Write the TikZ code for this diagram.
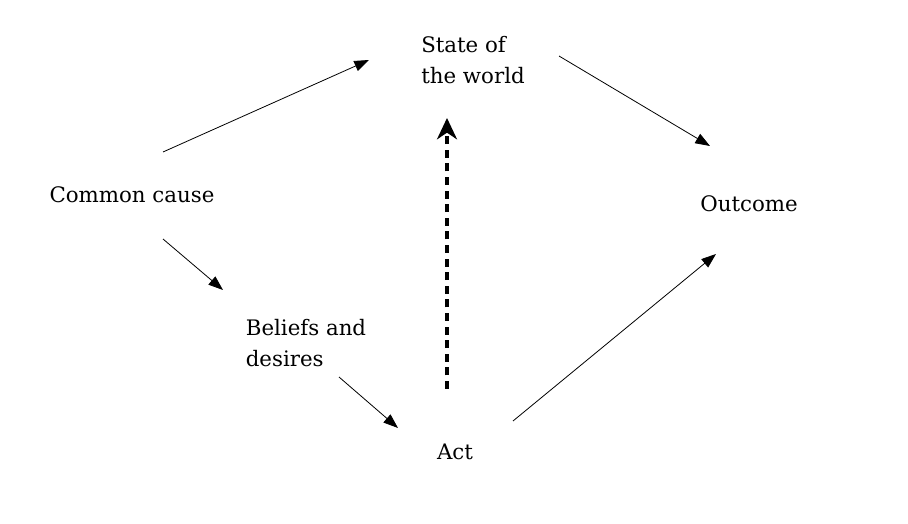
\documentclass[tikz,border=0pt]{standalone}
\usepackage{fontspec}
\setmainfont{DejaVu Serif}
\usetikzlibrary{arrows.meta}
\begin{document}
\begin{tikzpicture}[x=0.75pt,y=-0.75pt,
  lbl/.style={inner sep=0pt, font=\fontsize{16}{23}\selectfont, align=left},
  conn/.style={line width=0.6pt, -{Triangle[length=11pt,width=8pt]}},
  dconn/.style={line width=2.4pt, dash pattern=on 6pt off 4.2pt, -{Stealth[length=16pt,width=15pt,inset=5pt]}}]
\useasboundingbox (0,0) rectangle (908,524);
\node[lbl] (cc) at (132,195) {Common cause};
\node[lbl] (sw) at (473,60) {State of\\the world};
\node[lbl] (oc) at (749,204) {Outcome};
\node[lbl] (bd) at (306,343) {Beliefs and\\desires};
\node[lbl] (act) at (455,452) {Act};
\coordinate (p1) at (163,152); \coordinate (q1) at (369,60);
\coordinate (p2) at (163,239); \coordinate (q2) at (223,290);
\coordinate (p3) at (339,377); \coordinate (q3) at (398,428);
\coordinate (p4) at (513,421); \coordinate (q4) at (716,254);
\coordinate (p5) at (559,56);  \coordinate (q5) at (710,146);
\coordinate (p6) at (447,389); \coordinate (q6) at (447,118);
\draw[conn] (p1) -- (q1);
\draw[conn] (p2) -- (q2);
\draw[conn] (p3) -- (q3);
\draw[conn] (p4) -- (q4);
\draw[conn] (p5) -- (q5);
\draw[dconn] (p6) -- (q6);
\end{tikzpicture}
\end{document}
